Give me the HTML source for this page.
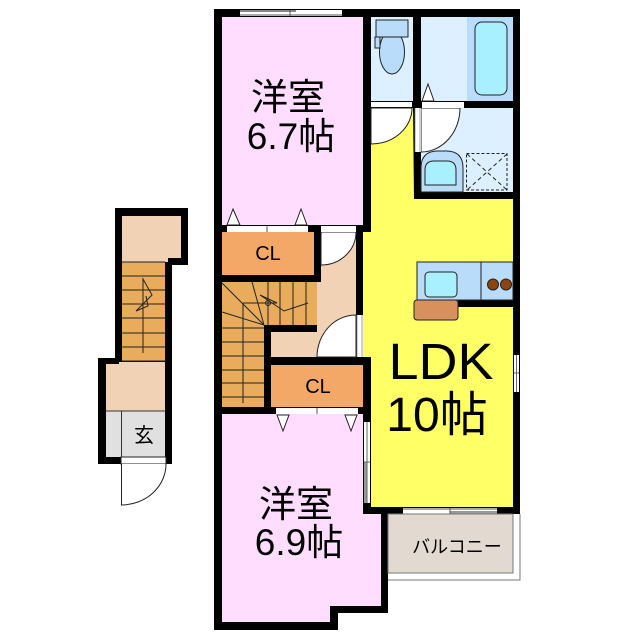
<!DOCTYPE html>
<html><head><meta charset="utf-8"><style>
html,body{margin:0;padding:0;background:#fff}
svg{display:block}
text{font-family:"Liberation Sans","Noto Sans CJK JP",sans-serif;fill:#000;text-anchor:middle}
</style></head><body>
<svg width="640" height="640" viewBox="0 0 640 640" xmlns="http://www.w3.org/2000/svg">
<!-- main building black -->
<polygon points="214,9 520,9 520,514 388,514 388,613 338,613 338,630 214,630" fill="#000"/>
<!-- pink rooms -->
<rect x="222" y="17" width="141" height="208" fill="#ffddff"/>
<polygon points="222,414 363,414 363,514 381,514 381,606 330,606 330,622 222,622" fill="#ffddff"/>
<!-- wet rooms -->
<rect x="371" y="17" width="42" height="84" fill="#ddf0ff"/>
<rect x="421" y="17" width="46" height="84" fill="#ddf0ff"/>
<rect x="467" y="17" width="46" height="84" fill="#b8dcfa"/>
<rect x="421" y="108" width="92" height="84" fill="#ddf0ff"/>
<!-- LDK -->
<polygon points="371,108 413,108 414,199 513,199 513,300 458,300 458,307 513,307 513,507 371,507 371,357 363,357 363,232 371,232" fill="#ffff66"/>
<rect x="458" y="300" width="55" height="7" fill="#000"/>
<!-- closets -->
<rect x="222" y="232" width="92" height="43" fill="#f4a868"/>
<rect x="271" y="365" width="92" height="42" fill="#f4a868"/>
<!-- stairs -->
<polygon points="222,282 317,282 317,325 264,325 264,407 222,407" fill="#e8ac5c"/>
<!-- hall -->
<polygon points="321,232 356,232 356,357 271,357 271,332 317,332 317,282 321,282" fill="#f2d2b4"/>
<g stroke="#222" stroke-width="1" fill="none">
<path d="M268,282V325M280,282V325M293,282V325M306,282V325"/>
<path d="M222,328H264M222,342H264M222,356H264M222,370H264M222,383H264M222,397H264"/>
<path d="M264,325L222,283M264,325L222,312M264,325L252,282M243,303V403M243,303H277L260,295L284,311L308,303"/>
<circle cx="268" cy="303" r="2.500"/>
</g>
<!-- doors -->
<g fill="#fff" stroke="#222" stroke-width="1">
<path d="M321,232H356A35,33 0 0 1 321,265Z"/>
<path d="M356,357V315A39,42 0 0 0 317,357Z"/>
<path d="M371,108H412A41,36 0 0 1 371,144Z"/>
<path d="M421,108H460A39,44 0 0 1 421,152Z"/>
</g>
<g fill="#fff" stroke="none">
<rect x="371" y="102" width="41" height="5"/>
<rect x="422" y="102" width="42" height="6"/>
<rect x="415" y="108" width="6" height="44"/>
<rect x="321" y="226" width="35" height="6"/>
<rect x="357" y="315" width="6" height="42"/>
<rect x="227" y="226" width="81" height="6"/>
<rect x="276" y="408" width="82" height="6"/>
</g>
<path d="M415,108V152M420,108V152" stroke="#777" stroke-width=".7" fill="none"/>
<path d="M357,315V357M362,315V357" stroke="#777" stroke-width=".7" fill="none"/>
<path d="M267,226V232M317,408V414" stroke="#555" stroke-width="1"/>
<!-- fold door triangles -->
<g fill="#fff" stroke="#222" stroke-width="1">
<path d="M233,209L227,225H240Z"/>
<path d="M301,209L295,225H307Z"/>
<path d="M283,431L277,415H289Z"/>
<path d="M351,431L345,415H357Z"/>
<path d="M428,84L422,101H434Z"/>
</g>
<!-- windows -->
<rect x="240" y="10" width="102" height="6" fill="#fff"/>
<rect x="240" y="10" width="56" height="2" fill="#888"/>
<path d="M240,15H342M290,10V16" stroke="#555" stroke-width="1"/>
<rect x="514" y="355" width="5" height="37" fill="#fff"/>
<path d="M514,373H519M516.500,355V392" stroke="#666" stroke-width="1"/>
<rect x="364" y="422" width="6" height="81" fill="#fff"/>
<rect x="364" y="462" width="2.500" height="41" fill="#999"/>
<path d="M367,422V503M364,462H370" stroke="#666" stroke-width="1"/>
<rect x="403" y="508" width="94" height="6" fill="#fff"/>
<rect x="450" y="511" width="47" height="3" fill="#999"/>
<path d="M403,509H497M450,508V514" stroke="#555" stroke-width="1"/>
<!-- balcony -->
<rect x="388" y="514" width="125" height="59" fill="#e2d9d0" stroke="#777" stroke-width="1"/>
<path d="M520,514V580H388" fill="none" stroke="#777" stroke-width="1"/>
<!-- toilet -->
<g stroke="#222" stroke-width="1">
<ellipse cx="392" cy="52" rx="12.500" ry="22" fill="#b8dcfa"/>
<rect x="376" y="20" width="32" height="17" fill="#b8dcfa"/>
<rect x="375" y="37" width="5" height="11" fill="#b8dcfa"/>
<rect x="475" y="22" width="32" height="73" rx="7" fill="#a8f0ff"/>
<path d="M421,192V168Q421,151 438,151H446Q463,151 463,168V192Z" fill="#b8dcfa"/>
<path d="M425,185V170Q425,161 434,161H447Q456,161 456,170V185Z" fill="#a8f0ff"/>
<rect x="417" y="262" width="96" height="38" fill="#b8dcfa"/>
<path d="M481,262V300"/>
<rect x="425" y="272" width="32" height="25" rx="4" fill="#a8f0ff"/>
<circle cx="493" cy="284.500" r="5.500" fill="#8b4513"/>
<circle cx="506" cy="284.500" r="5.500" fill="#8b4513"/>
<rect x="414" y="300" width="44" height="20" rx="3" fill="#d8905f"/>
</g>
<rect x="466.500" y="153.500" width="40.500" height="36.500" fill="none" stroke="#222" stroke-dasharray="3 2"/>
<path d="M467,154L507,190M507,154L467,190" stroke="#222" stroke-dasharray="4 3" fill="none"/>
<!-- left building -->
<polygon points="115,208 188,208 188,265 172,265 172,464 98,464 98,358 115,358" fill="#000"/>
<polygon points="122,216 181,216 181,258 168,258 168,262 122,262" fill="#f2d2b4"/>
<rect x="122" y="262" width="43" height="99" fill="#e8ac5c"/>
<polygon points="119,362 165,362 165,411 106,411 106,364 119,364" fill="#f2d2b4"/>
<rect x="106" y="411" width="59" height="46" fill="#e0e0e0"/>
<path d="M121.500,411V457M106,411H165" stroke="#333" stroke-width="1"/>
<path d="M122,262H165M122,276H165M122,290H165M122,304H165M122,318H165M122,333H165M122,347H165M122,361H165" stroke="#222" stroke-width="1"/>
<path d="M143,353V279L152,295L136,311L148,306L146,296" fill="none" stroke="#222" stroke-width="1"/>
<rect x="121" y="457" width="45" height="7" fill="#fff" stroke="#222" stroke-width="1"/>
<path d="M121.500,464V505A45,41 0 0 0 166,464" fill="#fff" stroke="#222" stroke-width="1"/>
<!-- text -->
<text x="288" y="110" font-size="37">洋室</text>
<text x="291" y="149" font-size="37">6.7帖</text>
<text x="296" y="517" font-size="37">洋室</text>
<text x="299" y="555" font-size="37">6.9帖</text>
<text x="268" y="260" font-size="20">CL</text>
<text x="318" y="393" font-size="20">CL</text>
<text x="441" y="379" font-size="51" textLength="105" lengthAdjust="spacingAndGlyphs">LDK</text>
<text x="437" y="431" font-size="48">10帖</text>
<text x="144" y="442" font-size="20">玄</text>
<text x="457" y="553" font-size="18">バルコニー</text>
</svg>
</body></html>
